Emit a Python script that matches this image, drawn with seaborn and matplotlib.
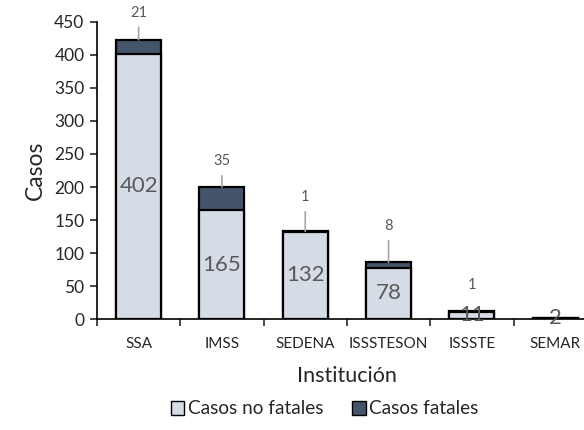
import pandas as pd
import seaborn as sns
import matplotlib.pyplot as plt
from matplotlib.patches import Patch

# Data
instituciones = ["SSA", "IMSS", "SEDENA", "ISSSTESON", "ISSSTE", "SEMAR"]
no_fatales = [402, 165, 132, 78, 11, 2]
fatales = [21, 35, 1, 8, 1, 0]

# label offsets (points) for the fatal-case labels, and whether a leader line is drawn
label_offset = [19.5, 18.5, 24.5, 26, 18.5, 0]
leader = [True, True, True, True, False, False]

c_light = "#D6DCE5"
c_dark = "#44546A"
c_text = "#595959"

df = pd.DataFrame({
    "Institucion": instituciones,
    "no_fatales": no_fatales,
    "fatales": fatales,
})
df["total"] = df["no_fatales"] + df["fatales"]

sns.set_style("white")
plt.rcParams["font.family"] = ["Lato", "DejaVu Sans"]

fig = plt.figure(figsize=(5.84, 4.30), dpi=100)
ax = fig.add_axes([0.166, 0.258, 0.856, 0.691])

sns.barplot(data=df, x="Institucion", y="total", color=c_dark, width=0.54,
            edgecolor="black", linewidth=1.6, saturation=1, ax=ax)
sns.barplot(data=df, x="Institucion", y="no_fatales", color=c_light, width=0.54,
            edgecolor="black", linewidth=1.6, saturation=1, ax=ax)

for i, row in df.iterrows():
    # non-fatal label in the middle of the light segment
    ax.text(i, row["no_fatales"] / 2, str(row["no_fatales"]), ha="center", va="center",
            fontsize=16, color=c_text)
    if row["fatales"] > 0:
        ax.annotate(str(row["fatales"]), xy=(i, row["total"]),
                    xytext=(0, label_offset[i]), textcoords="offset points",
                    ha="center", va="center", fontsize=10.5, color=c_text,
                    arrowprops=dict(arrowstyle="-", color="#A6A6A6", lw=1.2,
                                    shrinkA=3, shrinkB=0) if leader[i] else None)

ax.set_ylim(0, 450)
ax.set_xlim(-0.5, len(instituciones) - 0.5)
ax.set_yticks(range(0, 451, 50))
ax.tick_params(axis="y", labelsize=12.5, length=5, width=1.2, direction="out", left=True, pad=4)
ax.tick_params(axis="x", which="major", length=0, labelsize=11, pad=13)
ax.set_xticks([x - 0.5 for x in range(len(instituciones) + 1)], minor=True)
ax.tick_params(axis="x", which="minor", length=5, width=1.2, direction="out", bottom=True)

for side in ["top", "right"]:
    ax.spines[side].set_visible(False)
for side in ["left", "bottom"]:
    ax.spines[side].set_color("black")
    ax.spines[side].set_linewidth(1.2)

ax.set_ylabel("Casos", fontsize=16.5, labelpad=6)
ax.set_xlabel("Institución", fontsize=15.5, labelpad=11)

handles = [Patch(facecolor=c_light, edgecolor="black", label="Casos no fatales"),
           Patch(facecolor=c_dark, edgecolor="black", label="Casos fatales")]
fig.legend(handles=handles, loc="center", bbox_to_anchor=(325 / 584, 1 - 409 / 430),
           ncol=2, frameon=False, fontsize=13.7, handlelength=0.7, handleheight=0.7,
           handletextpad=0.2, columnspacing=1.5)

fig.savefig("out.png", dpi=100)
